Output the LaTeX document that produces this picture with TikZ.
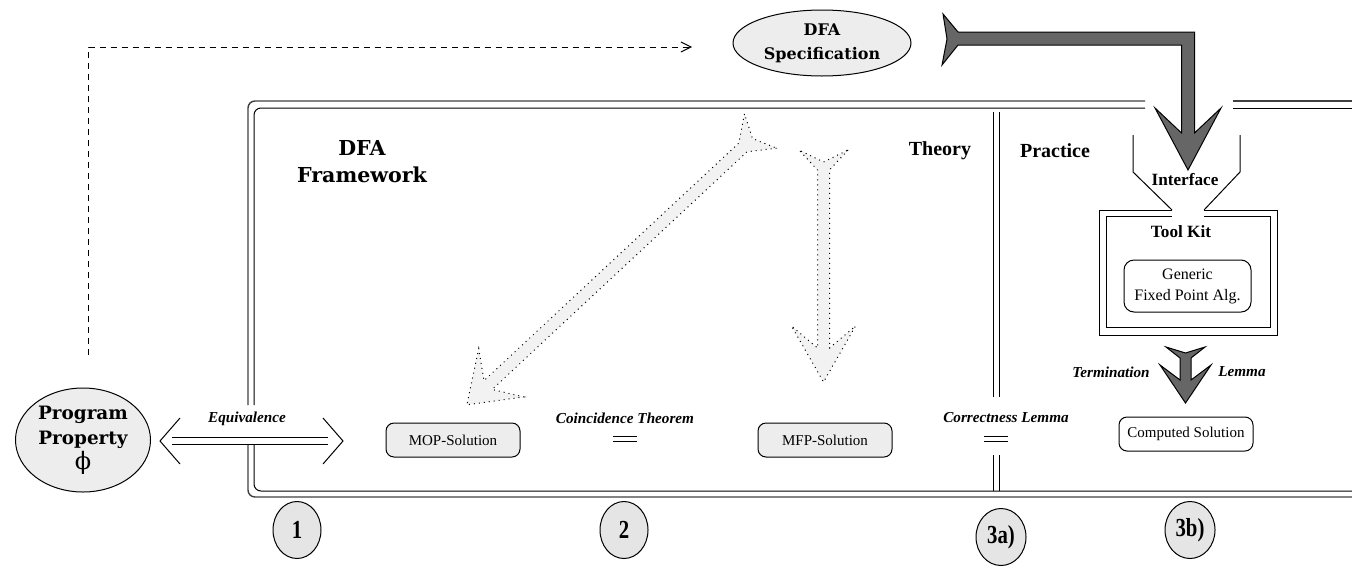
\documentclass[tikz,border=0pt]{standalone}
\usepackage{fontspec}
\usepackage{graphicx}
\newfontfamily\timesfont{Liberation Serif}
\newfontfamily\schfont{DejaVu Serif}
\usetikzlibrary{shapes.geometric, arrows.meta}
\definecolor{lightfill}{gray}{0.93}
\definecolor{arrowfill}{gray}{0.95}
\definecolor{darkfill}{gray}{0.4}
\definecolor{numfill}{gray}{0.9}

\begin{document}
\begin{tikzpicture}[x=0.5pt, y=-0.5pt, line width=0.5pt, every node/.style={inner sep=0pt},
    bigell/.style={draw, ellipse, fill=lightfill, align=center},
    solbox/.style={draw, rounded corners=4pt, minimum width=67pt, minimum height=17pt, font=\timesfont\fontsize{7.5}{9}\selectfont},
    hdr/.style={font=\timesfont\bfseries\fontsize{10}{12}\selectfont},
    lbl/.style={font=\timesfont\bfseries\itshape\fontsize{7.6}{9}\selectfont},
    numcirc/.style={draw, ellipse, fill=numfill, minimum width=24pt, minimum height=28.5pt, font=\timesfont\bfseries\fontsize{13}{13}\selectfont},
    framel/.style={draw=black!75, line width=0.7pt, rounded corners=3.5pt},
    framer/.style={rounded corners=3.5pt},
    fatdark/.style={draw, fill=darkfill, line join=miter},
    fatlight/.style={draw, dotted, fill=arrowfill}]
    \useasboundingbox (0,0) rectangle (1352,568);

    % BLOCKS
    \node (spec) at (822,43) [bigell, minimum width=89pt, minimum height=33pt, font=\schfont\bfseries\fontsize{8}{12}\selectfont] {DFA\\Specification};
    \node (prop) at (83,440) [bigell, minimum width=67.5pt, minimum height=52pt, font=\schfont\bfseries\fontsize{9.2}{12.5}\selectfont] {Program\\Property\\{\mdseries\fontsize{12}{12.5}\selectfont ϕ}};
    \node (fw) at (362,162) [align=center, font=\schfont\bfseries\fontsize{10.3}{13.5}\selectfont] {DFA\\Framework};
    \node (theory) at (940,151) [hdr] {Theory};
    \node (practice) at (1055,151) [hdr] {Practice};
    \node (iface) at (1185,180) [hdr, font=\timesfont\bfseries\fontsize{8.6}{10}\selectfont] {Interface};
    \node (kit) at (1181,232) [hdr, font=\timesfont\bfseries\fontsize{8.6}{10}\selectfont] {Tool Kit};
    \node (fixpt) at (1187.5,286) [draw, rounded corners=5pt, fill=white, minimum width=63.5pt, minimum height=26pt, align=center, font=\timesfont\fontsize{8}{10.5}\selectfont] {Generic\\Fixed Point Alg.};

    \node (mop) at (453,440) [solbox, fill=lightfill] {MOP-Solution};
    \node (mfp) at (825,440) [solbox, fill=lightfill] {MFP-Solution};
    \node (comp) at (1186,434) [solbox, fill=white] {Computed Solution};

    % LABELS
    \node (equiv) at (247,419) [lbl] {Equivalence};
    \node (coinc) at (625,418) [lbl] {Coincidence Theorem};
    \node (correct) at (1006,418) [lbl] {Correctness Lemma};
    \node (term) at (1111,372) [lbl] {Termination};
    \node (lemma) at (1242,372) [lbl] {Lemma};

    \node (n1) at (297,530) [numcirc] {\scalebox{0.8}[1]{1}};
    \node (n2) at (624,530) [numcirc] {\scalebox{0.8}[1]{2}};
    \node (n3a) at (1001,537) [numcirc, minimum width=25pt] {\scalebox{0.8}[1]{3a)}};
    \node (n3b) at (1190,530) [numcirc, minimum width=25pt] {\scalebox{0.8}[1]{3b)}};

    % FRAME
    \draw[framel] (1145,101) -- (248,101) -- (248,405);
    \draw[framel] (248,442) -- (248,497) -- (1352,497);
    \draw[framel] (1233,101) -- (1352,101);
    \draw[framer] (1145,108) -- (254,108) -- (254,405);
    \draw[framer] (254,442) -- (254,491) -- (1352,491);
    \draw[framer] (1233,108) -- (1352,108);

    % Theory / Practice
    \draw (993,112) -- (993,397) (999,112) -- (999,397);
    \draw (993,455) -- (993,491) (999,455) -- (999,491);

    % Tool kit with interface
    \draw (1172,210) -- (1099,210) -- (1099,335) -- (1277,335) -- (1277,210) -- (1204,210);
    \draw (1172,216) -- (1106,216) -- (1106,327) -- (1270,327) -- (1270,216) -- (1204,216);
    \draw (1133,135) -- (1133,172) -- (1172,210);
    \draw (1240,135) -- (1240,172) -- (1204,210);

    % equals signs
    \draw (613,436) -- (637,436) (613,441) -- (637,441);
    \draw (984,436) -- (1008,436) (984,441) -- (1008,441);

    % CONNEXIONS
    \coordinate (dashfoot) at (88.5,355);
    \coordinate (specin) at (692,47);
    \draw[dash pattern=on 3pt off 2.5pt, -{Straight Barb[length=5pt, width=5pt]}] (dashfoot) |- (specin);

    \coordinate (eqL) at (160,441);
    \coordinate (eqR) at (343,441);
    \draw[double, double distance=3pt] ([xshift=6pt]eqL) -- ([xshift=-7.5pt]eqR);
    \draw (eqL) ++(20,-23) -- (eqL) -- ++(20,23);
    \draw (eqR) ++(-20,-23) -- (eqR) -- ++(-20,23);

    % fat arrows
    \draw[fatdark] (943,14) -- (958,32) -- (1194.5,32) -- (1194.5,133) -- (1221,108) -- (1188,170) -- (1155,108) -- (1181.5,133) -- (1181.5,45) -- (958,45) -- (942,65) -- (947,39) -- cycle;
    \draw[fatdark] (1166,347) -- (1180,358) -- (1180,380) -- (1160,365) -- (1185.5,403) -- (1211,365) -- (1191,380) -- (1191,358) -- (1205,347) -- (1185.5,353) -- cycle;

    \begin{scope}[shift={(760.5,131)}, rotate=223]
      \draw[fatlight] (0,-23.5) -- (24,-6) -- (372.5,-6) -- (354.5,-33) -- (401.5,0) -- (354.5,33) -- (372.5,6) -- (24,6) -- (0,23.5) -- (11,0) -- cycle;
    \end{scope}
    \begin{scope}[shift={(823.5,150)}, rotate=270]
      \draw[fatlight] (0,-24.5) -- (20,-6) -- (198,-6) -- (176,-32) -- (232,0) -- (176,32) -- (198,6) -- (20,6) -- (0,24.5) -- (12,0) -- cycle;
    \end{scope}
\end{tikzpicture}
\end{document}
